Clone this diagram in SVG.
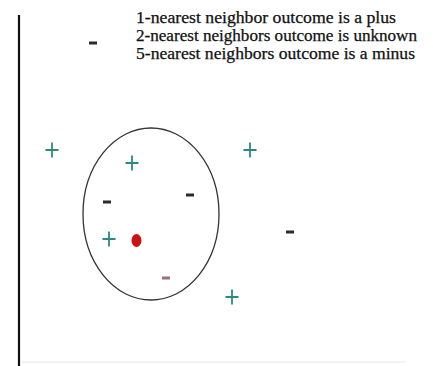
<svg xmlns="http://www.w3.org/2000/svg" width="433" height="366" viewBox="0 0 433 366">
<style>
.t{font-family:"Liberation Serif","Times New Roman",serif;font-size:16px;fill:#111;stroke:#111;stroke-width:0.25}
.plus{stroke:#2a8a7e;stroke-width:1.8;fill:none}
.minus{stroke:#2b2b2b;stroke-width:3;fill:none}
</style>
<defs>
<g id="p"><path class="plus" d="M-6.5 0H6.5M0 -7.5V7.5"/></g>
<g id="m"><path class="minus" d="M-4 0H4"/></g>
</defs>
<rect width="433" height="366" fill="#fff"/>
<g id="axes">
<line x1="19" y1="15" x2="19" y2="366" stroke="#111" stroke-width="2.2"/>
<line x1="22" y1="362" x2="405" y2="362" stroke="#e6e6e6" stroke-width="1"/>
</g>
<g id="legend">
<use href="#m" x="93" y="43"/>
<text class="t" x="136" y="23" textLength="260" lengthAdjust="spacingAndGlyphs">1-nearest neighbor outcome is a plus</text>
<text class="t" x="136" y="41" textLength="281" lengthAdjust="spacingAndGlyphs">2-nearest neighbors outcome is unknown</text>
<text class="t" x="136" y="59" textLength="279" lengthAdjust="spacingAndGlyphs">5-nearest neighbors outcome is a minus</text>
</g>
<g id="circle">
<ellipse cx="151" cy="214" rx="68" ry="86" fill="none" stroke="#333" stroke-width="1.3"/>
</g>
<g id="points">
<use href="#p" x="52" y="150"/>
<use href="#p" x="132" y="163"/>
<use href="#p" x="250" y="150"/>
<use href="#p" x="109" y="239"/>
<use href="#p" x="232" y="297"/>
<use href="#m" x="107" y="202"/>
<use href="#m" x="190" y="195"/>
<use href="#m" x="290" y="232"/>
<path d="M162 278H170" stroke="#9a6f80" stroke-width="3"/>
<ellipse id="query" cx="136.5" cy="240.5" rx="5" ry="6.5" fill="#cc1111"/>
</g>
</svg>
